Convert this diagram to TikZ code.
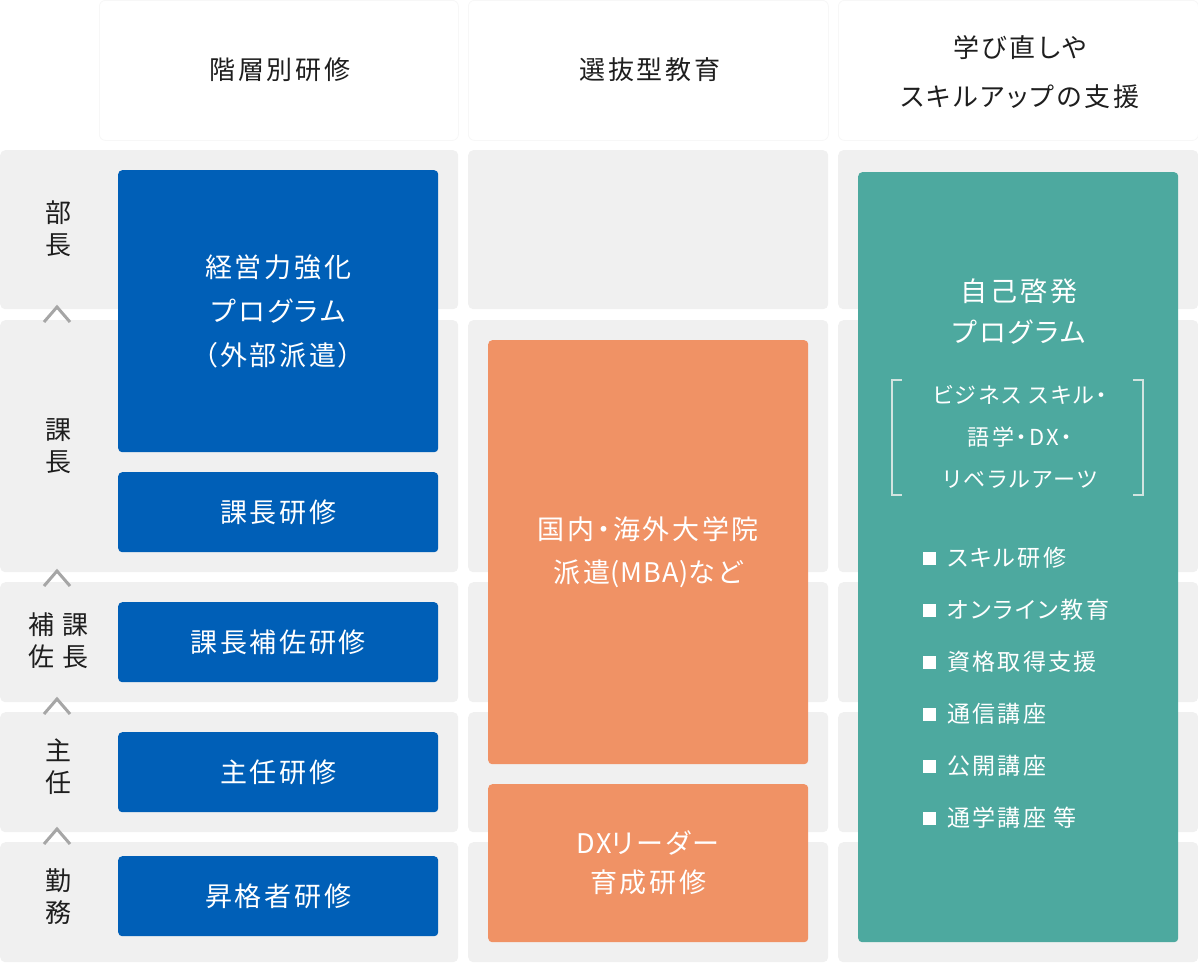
\documentclass[tikz,border=0pt]{standalone}
\usepackage{fontspec}
\setmainfont{Noto Sans CJK JP}[RawFeature=+palt, LetterSpace=10]
\newfontfamily\latnarrow{Noto Sans CJK JP}[RawFeature=+palt, LetterSpace=4]
\definecolor{cellgray}{HTML}{F0F0F0}
\definecolor{headline}{HTML}{F7F7F7}
\definecolor{blueb}{HTML}{005FB7}
\definecolor{orangeb}{HTML}{F09265}
\definecolor{tealb}{HTML}{4DA99F}
\definecolor{ink}{HTML}{1E1E1E}
\definecolor{chevgray}{HTML}{A6A6A6}
\definecolor{brack}{HTML}{D2E4E0}
\tikzset{
  cell/.style={fill=cellgray, rounded corners=5pt, draw=none, inner sep=0pt, anchor=north west},
  headbox/.style={draw=headline, line width=0.8pt, rounded corners=6pt, fill=white, inner sep=0pt, anchor=north west},
  filledbox/.style={rounded corners=4pt, draw=none, inner sep=0pt, anchor=north west, text=white, align=center},
  bluebox/.style={filledbox, fill=blueb, font=\fontsize{27}{44}\selectfont},
  orangebox/.style={filledbox, fill=orangeb, font=\fontsize{27}{43}\selectfont},
  tealbox/.style={filledbox, fill=tealb},
  headtext/.style={text=ink, align=center, font=\fontsize{26}{49}\selectfont, inner sep=0pt},
  ranktext/.style={text=ink, align=center, font=\fontsize{26}{32}\selectfont, inner sep=0pt},
  chevron/.style={draw=chevgray, line width=3pt, line cap=butt, line join=miter},
  whitetext/.style={text=white, inner sep=0pt},
  bullettext/.style={whitetext, anchor=west, font=\fontsize{23}{28}\selectfont},
  bulletsq/.style={fill=white, draw=none},
  bracketline/.style={draw=brack, line width=1.6pt},
}
\begin{document}
\begin{tikzpicture}[x=1pt,y=-1pt]
\useasboundingbox (0,0) rectangle (1198,964);
% header boxes
\node[headbox, minimum width=359, minimum height=140] (hb1) at (99,0) {};
\node[headbox, minimum width=360, minimum height=140] (hb2) at (468,0) {};
\node[headbox, minimum width=360, minimum height=140] (hb3) at (838,0) {};
\node[headtext] (h1) at (280,70) {階層別研修};
\node[headtext] (h2) at (650,70) {選抜型教育};
\node[headtext] (h3) at (1020,72) {学び直しや\\スキルアップの支援};
% gray cells
\foreach \cx/\cw/\cn in {0/458/a, 468/360/b, 838/360/c}{
  \node[cell, minimum width=\cw, minimum height=159] (\cn1) at (\cx,150) {};
  \node[cell, minimum width=\cw, minimum height=252] (\cn2) at (\cx,320) {};
  \node[cell, minimum width=\cw, minimum height=120] (\cn3) at (\cx,582) {};
  \node[cell, minimum width=\cw, minimum height=120] (\cn4) at (\cx,712) {};
  \node[cell, minimum width=\cw, minimum height=120] (\cn5) at (\cx,842) {};
}
% rank labels
\node[ranktext] (r1) at (58,229) {部\\長};
\node[ranktext] (r2) at (58,446) {課\\長};
\node[ranktext] (r3a) at (75,641) {課\\長};
\node[ranktext] (r3b) at (41,641) {補\\佐};
\node[ranktext] (r4) at (58,767) {主\\任};
\node[ranktext] (r5) at (58,897) {勤\\務};
% chevrons
\draw[chevron] (44,322) -- (57,307) -- (70,322);
\draw[chevron] (44,586) -- (57,571) -- (70,586);
\draw[chevron] (44,714) -- (57,699) -- (70,714);
\draw[chevron] (44,844) -- (57,829) -- (70,844);
% blue boxes
\node[bluebox, minimum width=320, minimum height=282] (b1) at (118,170) {経営力強化\\プログラム\\（外部派遣）};
\node[bluebox, minimum width=320, minimum height=80] (b2) at (118,472) {課長研修};
\node[bluebox, minimum width=320, minimum height=80] (b3) at (118,602) {課長補佐研修};
\node[bluebox, minimum width=320, minimum height=80] (b4) at (118,732) {主任研修};
\node[bluebox, minimum width=320, minimum height=80] (b5) at (118,856) {昇格者研修};
% orange boxes
\node[orangebox, minimum width=320, minimum height=424] (o1) at (488,340) {国内・海外大学院\\派遣{\latnarrow (MBA)}など};
\node[orangebox, minimum width=320, minimum height=158, font=\fontsize{27}{39}\selectfont] (o2) at (488,784) {{\latnarrow DX}リーダー\\育成研修};
% teal box
\node[tealbox, minimum width=320, minimum height=770] (t) at (858,172) {};
\node[whitetext, align=center, font=\fontsize{27}{41}\selectfont] (t1) at (1019,312) {自己啓発\\プログラム};
\node[whitetext, align=center, font=\fontsize{22}{42}\selectfont] (t2) at (1020,437) {ビジネス スキル・\\語学・DX・\\リベラルアーツ};
\coordinate (lbA) at (902,380);
\coordinate (lbB) at (902,495);
\coordinate (rbA) at (1133,380);
\coordinate (rbB) at (1133,495);
\draw[bracketline] (lbA) -- ++(-10,0) |- (lbB);
\draw[bracketline] (rbA) -- ++(10,0) |- (rbB);
\foreach \yy/\tx/\nm in {558/スキル研修/s1, 610/オンライン教育/s2, 662/資格取得支援/s3, 714/通信講座/s4, 766/公開講座/s5, 818/通学講座 等/s6}{
  \fill[bulletsq] (923,\yy-6.5) rectangle (936,\yy+6.5);
  \node[bullettext] (\nm) at (947,\yy) {\tx};
}
\end{tikzpicture}
\end{document}
